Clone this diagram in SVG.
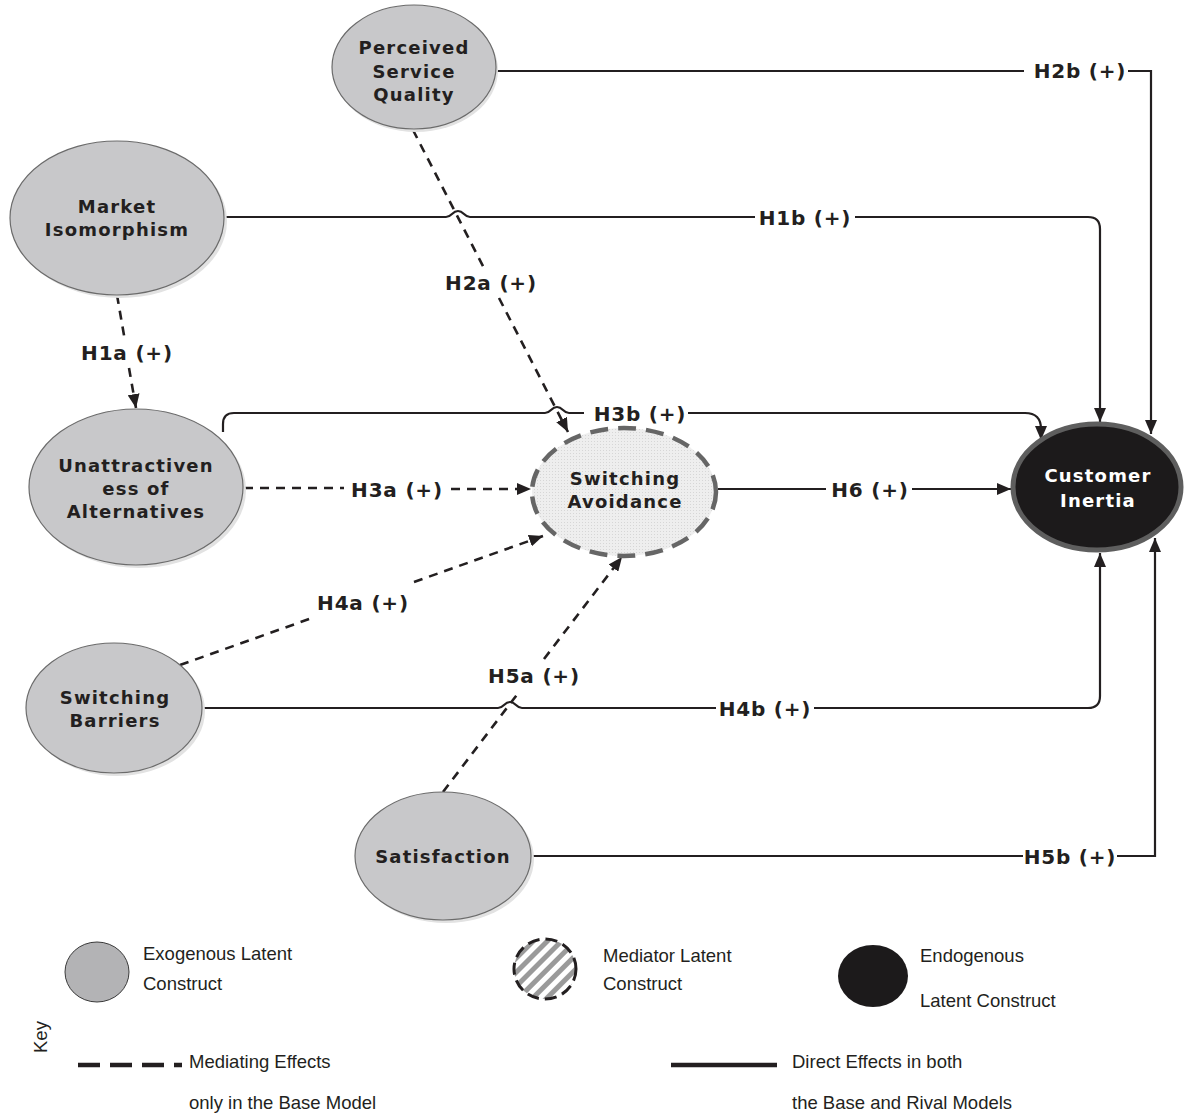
<svg xmlns="http://www.w3.org/2000/svg" width="1185" height="1116" viewBox="0 0 1185 1116">
<style>
.solid{fill:none;stroke:#231f20;stroke-width:2.2}
.dash{fill:none;stroke:#231f20;stroke-width:2.6;stroke-dasharray:9 7}
.exo{fill:#c8c8ca;stroke:#6b6b6b;stroke-width:1.2}
.shadow{fill:#e2e2e2}
.nt{font-family:"DejaVu Sans",sans-serif;font-weight:bold;font-size:18px;letter-spacing:1.2px;fill:#231f20;text-anchor:middle}
.el{font-family:"DejaVu Sans",sans-serif;font-weight:bold;font-size:20px;letter-spacing:0.8px;fill:#231f20;text-anchor:middle}
.lg{font-family:"Liberation Sans",Arial,sans-serif;font-size:18.5px;fill:#231f20}
</style>
<defs>
<marker id="arr" viewBox="0 0 14 12" refX="14" refY="6" markerWidth="14" markerHeight="12" markerUnits="userSpaceOnUse" orient="auto">
<path d="M0,0 L14,6 L0,12 z" fill="#231f20"/>
</marker>
<pattern id="dots" width="3" height="3" patternUnits="userSpaceOnUse">
<rect width="3" height="3" fill="#eeeeee"/>
<rect width="1" height="1" fill="#d6d6d6"/>
</pattern>
<pattern id="stripes" width="10" height="10" patternUnits="userSpaceOnUse" patternTransform="rotate(45)">
<rect width="10" height="10" fill="#ffffff"/>
<rect width="5" height="10" fill="#9a9a9a"/>
</pattern>
</defs>

<g id="connectors">
<!-- H2b -->
<path class="solid" d="M496,71 H1024"/>
<path class="solid" d="M1128,71 H1151 V434" marker-end="url(#arr)"/>
<!-- H1b -->
<path class="solid" d="M224,217 H446 C452,217 452,211 458,211 C464,211 464,217 470,217 H755"/>
<path class="solid" d="M855,217 H1088 Q1100,217 1100,229 V422" marker-end="url(#arr)"/>
<!-- H3b -->
<path class="solid" d="M223,432 V424 Q223,413 234,413 H545 C551,413 551,407 557,407 C563,407 563,413 569,413 H584"/>
<path class="solid" d="M688,413 H1025 Q1041,413 1041,429 V440" marker-end="url(#arr)"/>
<!-- H6 -->
<path class="solid" d="M718,489 H826"/>
<path class="solid" d="M912,489 H1011" marker-end="url(#arr)"/>
<!-- H4b -->
<path class="solid" d="M202,708 H498 C504,708 504,702 510,702 C516,702 516,708 522,708 H716"/>
<path class="solid" d="M814,708 H1088 Q1100,708 1100,696 V553" marker-end="url(#arr)"/>
<!-- H5b -->
<path class="solid" d="M532,856 H1023"/>
<path class="solid" d="M1117,856 H1155 V538" marker-end="url(#arr)"/>
<!-- H1a -->
<path class="dash" d="M117,295 L125,341"/>
<path class="dash" d="M129,368 L136,408" marker-end="url(#arr)"/>
<!-- H2a -->
<path class="dash" d="M413,130 L484,268"/>
<path class="dash" d="M499,298 L568,432" marker-end="url(#arr)"/>
<!-- H3a -->
<path class="dash" d="M244,488 H344"/>
<path class="dash" d="M451,489 H531" marker-end="url(#arr)"/>
<!-- H4a -->
<path class="dash" d="M180,665 L312,618"/>
<path class="dash" d="M414,582 L543,536" marker-end="url(#arr)"/>
<!-- H5a -->
<path class="dash" d="M443,792 L519,692"/>
<path class="dash" d="M544,659 L622,557" marker-end="url(#arr)"/>

<text class="el" x="1080" y="78">H2b (+)</text>
<text class="el" x="805" y="225">H1b (+)</text>
<text class="el" x="491" y="290">H2a (+)</text>
<text class="el" x="127" y="360">H1a (+)</text>
<text class="el" x="640" y="421">H3b (+)</text>
<text class="el" x="397" y="497">H3a (+)</text>
<text class="el" x="870" y="497">H6 (+)</text>
<text class="el" x="363" y="610">H4a (+)</text>
<text class="el" x="534" y="683">H5a (+)</text>
<text class="el" x="765" y="716">H4b (+)</text>
<text class="el" x="1070" y="864">H5b (+)</text>
</g>

<g id="perceived-service-quality">
<ellipse class="shadow" cx="416" cy="70" rx="82" ry="62"/>
<ellipse class="exo" cx="414" cy="67" rx="82" ry="62"/>
<text class="nt" x="414" y="54">Perceived</text>
<text class="nt" x="414" y="78">Service</text>
<text class="nt" x="414" y="101">Quality</text>
</g>

<g id="market-isomorphism">
<ellipse class="shadow" cx="120" cy="221" rx="107" ry="77"/>
<ellipse class="exo" cx="117" cy="218" rx="107" ry="77"/>
<text class="nt" x="117" y="213">Market</text>
<text class="nt" x="117" y="236">Isomorphism</text>
</g>

<g id="unattractiveness-of-alternatives">
<ellipse class="shadow" cx="139" cy="490" rx="107" ry="78"/>
<ellipse class="exo" cx="136" cy="487" rx="107" ry="78"/>
<text class="nt" x="136" y="472">Unattractiven</text>
<text class="nt" x="136" y="495">ess of</text>
<text class="nt" x="136" y="518">Alternatives</text>
</g>

<g id="switching-barriers">
<ellipse class="shadow" cx="117" cy="711" rx="88" ry="65"/>
<ellipse class="exo" cx="114" cy="708" rx="88" ry="65"/>
<text class="nt" x="115" y="704">Switching</text>
<text class="nt" x="115" y="727">Barriers</text>
</g>

<g id="satisfaction">
<ellipse class="shadow" cx="446" cy="859" rx="88" ry="64"/>
<ellipse class="exo" cx="443" cy="856" rx="88" ry="64"/>
<text class="nt" x="443" y="863">Satisfaction</text>
</g>

<g id="switching-avoidance">
<ellipse cx="624" cy="492" rx="92" ry="64" fill="url(#dots)" stroke="#666666" stroke-width="4.5" stroke-dasharray="18 10"/>
<text class="nt" x="625" y="485">Switching</text>
<text class="nt" x="625" y="508">Avoidance</text>
</g>

<g id="customer-inertia">
<ellipse cx="1097" cy="487" rx="84" ry="63" fill="#1c1a1b" stroke="#5e5e5e" stroke-width="5"/>
<text class="nt" x="1098" y="482" fill="#ffffff" style="fill:#ffffff">Customer</text>
<text class="nt" x="1098" y="507" style="fill:#ffffff">Inertia</text>
</g>

<g id="legend">
<ellipse cx="97" cy="972" rx="32" ry="30" fill="#b3b3b5" stroke="#3a3a3a" stroke-width="1"/>
<text class="lg" x="143" y="960">Exogenous Latent</text>
<text class="lg" x="143" y="990">Construct</text>

<ellipse cx="545" cy="969" rx="31" ry="30" fill="url(#stripes)" stroke="#231f20" stroke-width="3" stroke-dasharray="12 6"/>
<text class="lg" x="603" y="962">Mediator Latent</text>
<text class="lg" x="603" y="990">Construct</text>

<ellipse cx="873" cy="976" rx="35" ry="31" fill="#1c1a1b"/>
<text class="lg" x="920" y="962">Endogenous</text>
<text class="lg" x="920" y="1007">Latent Construct</text>

<text class="lg" transform="translate(47,1053) rotate(-90)">Key</text>

<line x1="78" y1="1065" x2="182" y2="1065" stroke="#231f20" stroke-width="4.5" stroke-dasharray="22 10"/>
<text class="lg" x="189" y="1068">Mediating Effects</text>
<text class="lg" x="189" y="1109">only in the Base Model</text>

<line x1="671" y1="1065" x2="777" y2="1065" stroke="#231f20" stroke-width="4.5"/>
<text class="lg" x="792" y="1068">Direct Effects in both</text>
<text class="lg" x="792" y="1109">the Base and Rival Models</text>
</g>
</svg>
